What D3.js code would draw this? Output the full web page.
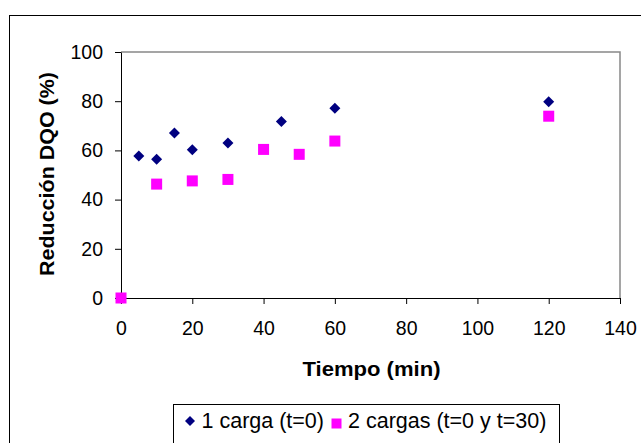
<!DOCTYPE html>
<html><head><meta charset="utf-8">
<script src="https://cdn.jsdelivr.net/npm/d3@7"></script>
<style>body{margin:0;background:#fff}svg{display:block;font-family:"Liberation Sans",Arial,sans-serif}</style>
</head><body>
<script>
const series1Name = "1 carga (t=0)";
const series1X = [0, 5, 10, 15, 20, 30, 45, 60, 120];
const series1Y = [0, 57.7, 56.4, 67.1, 60.3, 63.0, 71.7, 77.1, 79.8];
const series2Name = "2 cargas (t=0 y t=30)";
const series2X = [0, 10, 20, 30, 40, 50, 60, 120];
const series2Y = [0, 46.3, 47.6, 48.2, 60.4, 58.4, 63.8, 73.9];
const xTicks = [0, 20, 40, 60, 80, 100, 120, 140];
const yTicks = [0, 20, 40, 60, 80, 100];
const xTitle = "Tiempo (min)";
const yTitle = "Reducción DQO (%)";

const W = 641, H = 443;
const svg = d3.select("body").append("svg").attr("width", W).attr("height", H);
const L = 121, R = 620, T = 52, B = 298;
const x = d3.scaleLinear().domain([0, 140]).range([L, R]);
const y = d3.scaleLinear().domain([0, 100]).range([B, T]);
const FONT = '"Liberation Sans",Arial,sans-serif';

// outer chart border
svg.append("rect").attr("x", 9.5).attr("y", 15.5).attr("width", 640).attr("height", 440)
  .attr("fill", "none").attr("stroke", "#000").attr("stroke-width", 1);

// plot area border (gray top/right)
svg.append("path").attr("d", `M${L},${T}H${R}V${B}`).attr("fill", "none")
  .attr("stroke", "#888").attr("stroke-width", 1.5);

const xAxis = svg.append("g").attr("transform", `translate(0,${B})`)
  .call(d3.axisBottom(x).tickValues(xTicks).tickSize(6).tickSizeOuter(0).tickPadding(17));
const yAxis = svg.append("g").attr("transform", `translate(${L},0)`)
  .call(d3.axisLeft(y).tickValues(yTicks).tickSize(6).tickSizeOuter(0).tickPadding(12));
[xAxis, yAxis].forEach(g => {
  g.selectAll("text").attr("font-size", 19.5).attr("fill", "#000").attr("font-family", FONT);
  g.selectAll("line,path").attr("stroke", "#000");
});

svg.append("text").attr("x", x(70) + 1).attr("y", 376).attr("text-anchor", "middle")
  .attr("font-size", 21).attr("font-weight", "bold")
  .attr("textLength", 138).attr("lengthAdjust", "spacingAndGlyphs").text(xTitle);
svg.append("text").attr("transform", `translate(54,${174}) rotate(-90)`)
  .attr("text-anchor", "middle").attr("font-size", 21).attr("font-weight", "bold")
  .attr("textLength", 204).attr("lengthAdjust", "spacingAndGlyphs").text(yTitle);

const s1 = series1X.map((v, i) => ({x: v, y: series1Y[i]}));
const s2 = series2X.map((v, i) => ({x: v, y: series2Y[i]}));
const diamond = (cx, cy, r) => `M${cx},${cy - r}L${cx + r},${cy}L${cx},${cy + r}L${cx - r},${cy}Z`;

svg.append("g").selectAll("path").data(s1).join("path")
  .attr("d", d => diamond(x(d.x), y(d.y), 5.5)).attr("fill", "#000080");
svg.append("g").selectAll("rect").data(s2).join("rect")
  .attr("x", d => x(d.x) - 5.5).attr("y", d => y(d.y) - 5.5)
  .attr("width", 11).attr("height", 11).attr("fill", "#ff00ff");

// legend
const lg = svg.append("g");
lg.append("rect").attr("x", 173.5).attr("y", 404.5).attr("width", 386).attr("height", 60)
  .attr("fill", "#fff").attr("stroke", "#000");
lg.append("path").attr("d", diamond(190, 421, 5)).attr("fill", "#000080");
lg.append("text").attr("x", 201.5).attr("y", 428).attr("font-size", 21.5).text(series1Name);
lg.append("rect").attr("x", 331.5).attr("y", 418.5).attr("width", 10).attr("height", 10).attr("fill", "#ff00ff");
lg.append("text").attr("x", 348).attr("y", 428).attr("font-size", 21.5).text(series2Name);
</script>
</body></html>
